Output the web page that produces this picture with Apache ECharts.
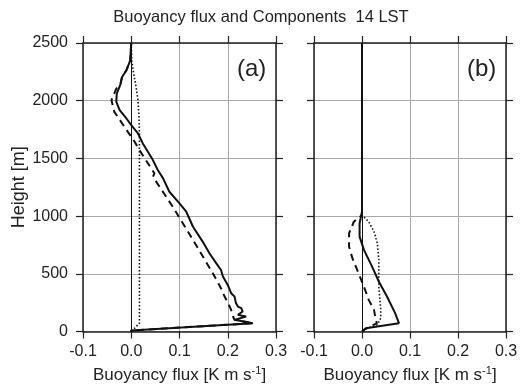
<!DOCTYPE html>
<html>
<head>
<meta charset="utf-8">
<script src="https://cdn.jsdelivr.net/npm/echarts@6/dist/echarts.min.js"></script>
<style>
  html, body { margin: 0; padding: 0; background: #fff; }
  #chart { width: 526px; height: 389px; }
</style>
</head>
<body>
<div id="chart"></div>
<script>
// 刻度
let xTicks = [-0.1, 0.0, 0.1, 0.2, 0.3]
let yTicks = [0, 500, 1000, 1500, 2000, 2500]

// (a) 实线
let aSolidH = [2500, 2437, 2350, 2264, 2206, 2134, 2062, 1990, 1918, 1846, 1788, 1716, 1630, 1500, 1399, 1327, 1211, 1111, 1038, 908, 779, 678, 592, 533, 476, 404, 332, 303, 246, 216, 202, 173, 144, 130, 101, 72, 9, 0]
let aSolidX = [0.000, -0.001, -0.002, -0.010, -0.019, -0.023, -0.030, -0.031, -0.024, -0.010, 0.000, 0.014, 0.024, 0.043, 0.055, 0.066, 0.079, 0.100, 0.114, 0.128, 0.148, 0.162, 0.176, 0.186, 0.190, 0.200, 0.207, 0.214, 0.217, 0.221, 0.228, 0.231, 0.221, 0.238, 0.214, 0.252, 0.000, 0.000]
// (a) 虚线
let aDashH = [2500, 2437, 2350, 2264, 2206, 2150, 2105, 2004, 1903, 1817, 1730, 1644, 1572, 1370, 1341, 1081, 793, 505, 375, 332, 216, 188, 130, 101, 72, 9, 0]
let aDashX = [0.000, -0.001, -0.002, -0.010, -0.019, -0.022, -0.031, -0.041, -0.035, -0.021, -0.007, 0.007, 0.017, 0.048, 0.045, 0.086, 0.128, 0.169, 0.186, 0.190, 0.204, 0.207, 0.211, 0.214, 0.252, 0.000, 0.000]
// (a) 点线
let aDotH = [2500, 2350, 2235, 2119, 2004, 1860, 1716, 1500, 1000, 500, 72, 58, 29, 9, 0]
let aDotX = [0.000, 0.001, 0.005, 0.010, 0.014, 0.016, 0.017, 0.017, 0.017, 0.017, 0.017, 0.014, 0.007, 0.000, 0.000]

// (b) 实线
let bSolidH = [2500, 1038, 938, 822, 707, 562, 433, 303, 159, 116, 72, 29, 0]
let bSolidX = [0.000, 0.000, -0.005, -0.005, 0.004, 0.021, 0.035, 0.052, 0.069, 0.073, 0.077, 0.008, 0.000]
// (b) 虚线
let bDashH = [2500, 1009, 951, 851, 735, 635, 534, 389, 274, 188, 116, 72, 15, 0]
let bDashX = [0.000, 0.000, -0.017, -0.027, -0.027, -0.020, -0.010, 0.004, 0.014, 0.025, 0.028, 0.031, 0.004, 0.000]
// (b) 点线
let bDotH = [2500, 1009, 951, 865, 764, 620, 389, 188, 116, 58, 29, 0]
let bDotX = [0.000, 0.000, 0.014, 0.025, 0.032, 0.035, 0.035, 0.039, 0.039, 0.032, 0.011, 0.000]

function pairs(xs, hs) {
	return xs.map((x, i) => [x, hs[i]])
}

let font = 'Liberation Sans, Arial, sans-serif'
let ink = '#222'
let gridColor = '#a8a8a8'

function xAxisOf(g, bottom) {
	return {
		type: 'value', gridIndex: g, position: bottom ? 'bottom' : 'top',
		min: xTicks[0], max: xTicks[xTicks.length - 1], interval: 0.1,
		axisLine: { show: true, onZero: false, lineStyle: { color: ink, width: 1.5 } },
		axisTick: { show: true, inside: false, length: 7, lineStyle: { color: ink, width: 1.2 } },
		axisLabel: { show: bottom, margin: 12, fontSize: 16, color: ink, fontFamily: font,
			formatter: v => v.toFixed(1) },
		splitLine: { show: bottom, lineStyle: { color: gridColor, width: 1 } },
		name: bottom ? 'Buoyancy flux [K m s{sup|-1}]' : '',
		nameLocation: 'middle', nameGap: 34,
		nameTextStyle: { fontSize: 17, color: ink, fontFamily: font,
			rich: { sup: { fontSize: 11, verticalAlign: 'top', padding: [0, 0, 9, 0], color: ink, fontFamily: font } } }
	}
}

function yAxisOf(g, left, labels) {
	return {
		type: 'value', gridIndex: g, position: left ? 'left' : 'right',
		min: yTicks[0], max: yTicks[yTicks.length - 1], interval: 500,
		axisLine: { show: true, onZero: false, lineStyle: { color: ink, width: 1.5 } },
		axisTick: { show: true, inside: false, length: 7, lineStyle: { color: ink, width: 1.2 } },
		axisLabel: { show: labels, margin: 15, fontSize: 16, color: ink, fontFamily: font,
			formatter: v => String(v) },
		splitLine: { show: left, lineStyle: { color: gridColor, width: 1 } },
		name: labels ? 'Height [m]' : '',
		nameLocation: 'middle', nameGap: 41, nameRotate: 90,
		nameTextStyle: { fontSize: 18, color: ink, fontFamily: font }
	}
}

function line(name, xi, yi, data, type, width) {
	return {
		name: name, type: 'line', xAxisIndex: xi, yAxisIndex: yi,
		data: data, showSymbol: false, symbol: 'none', smooth: false, silent: true,
		lineStyle: { color: '#111', width: width, type: type }
	}
}

let zeroA = { silent: true, symbol: 'none', label: { show: false },
	lineStyle: { color: '#111', width: 1, type: 'solid' }, data: [{ xAxis: 0 }] }
let zeroB = JSON.parse(JSON.stringify(zeroA))

let sa = line('a_solid', 0, 0, pairs(aSolidX, aSolidH), 'solid', 2)
sa.markLine = zeroA
let sb = line('b_solid', 2, 2, pairs(bSolidX, bSolidH), 'solid', 2)
sb.markLine = zeroB

let myChart = echarts.init(document.getElementById('chart'))
myChart.setOption({
	animation: false,
	title: {
		text: 'Buoyancy flux and Components  14 LST',
		left: 256, top: 4, textAlign: 'center',
		textStyle: { fontSize: 16.5, fontWeight: 'normal', color: ink, fontFamily: font }
	},
	grid: [
		{ left: 83, top: 43, width: 193, height: 289 },
		{ left: 314, top: 43, width: 192, height: 289 }
	],
	xAxis: [xAxisOf(0, true), xAxisOf(0, false), xAxisOf(1, true), xAxisOf(1, false)],
	yAxis: [yAxisOf(0, true, true), yAxisOf(0, false, false), yAxisOf(1, true, false), yAxisOf(1, false, false)],
	graphic: [
		{ type: 'text', left: 237, top: 57, style: { text: '(a)', fontSize: 24, fill: ink, fontFamily: font } },
		{ type: 'text', left: 467, top: 57, style: { text: '(b)', fontSize: 24, fill: ink, fontFamily: font } }
	],
	series: [
		line('a_dot', 0, 0, pairs(aDotX, aDotH), [1.5, 2], 1.6),
		line('a_dash', 0, 0, pairs(aDashX, aDashH), [7, 5], 2),
		sa,
		line('b_dot', 2, 2, pairs(bDotX, bDotH), [1.5, 2], 1.6),
		line('b_dash', 2, 2, pairs(bDashX, bDashH), [7, 5], 2),
		sb
	]
})
</script>
</body>
</html>
